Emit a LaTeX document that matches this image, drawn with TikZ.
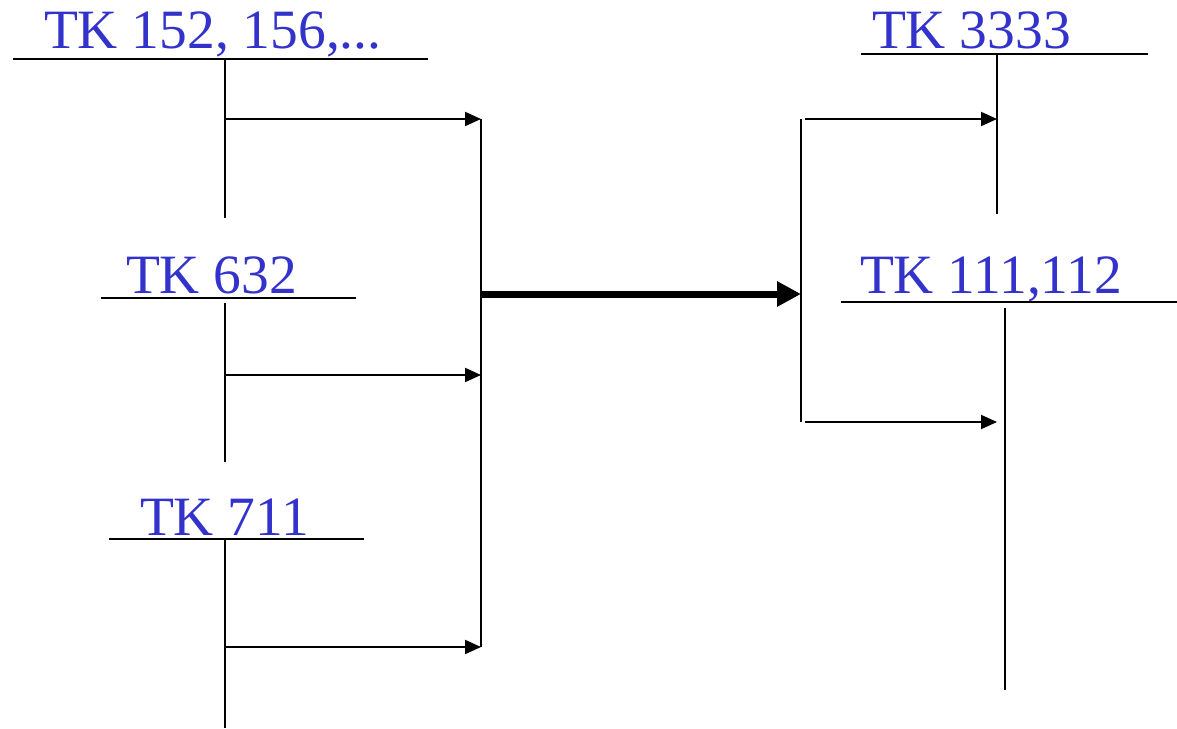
\documentclass[tikz,border=0pt]{standalone}
\usepackage{fontspec}
\setmainfont{Liberation Serif}
\usetikzlibrary{arrows.meta}
\definecolor{tkblue}{RGB}{51,51,204}
\tikzset{
  tklabel/.style={anchor=base west, inner sep=0pt, text=tkblue,
    font=\fontsize{55.5}{60}\selectfont},
  feed/.style={-{Triangle[length=16pt,width=14pt]}},
  mainflow/.style={line width=7pt, -{Triangle[length=24pt,width=24pt]}},
}
\begin{document}
\begin{tikzpicture}[x=1pt,y=-1pt,line width=2pt]
  \useasboundingbox (0,0) rectangle (1177,728);
  % left side: three sources
  \node[tklabel] (src1) at (43,48) {TK 152, 156,...};
  \node[tklabel] (src2) at (125,293) {TK 632};
  \node[tklabel] (src3) at (139,535) {TK 711};
  \coordinate (u1a) at (13,59);  \coordinate (u1b) at (428,59);
  \coordinate (u2a) at (101,298); \coordinate (u2b) at (356,298);
  \coordinate (u3a) at (109,539); \coordinate (u3b) at (364,539);
  \draw (u1a) -- (u1b);
  \draw (u2a) -- (u2b);
  \draw (u3a) -- (u3b);
  \coordinate (s1top) at (225,59);  \coordinate (s1bot) at (225,218);
  \coordinate (s2top) at (225,303); \coordinate (s2bot) at (225,462);
  \coordinate (s3top) at (225,539); \coordinate (s3bot) at (225,728);
  \draw (s1top) -- (s1bot);
  \draw (s2top) -- (s2bot);
  \draw (s3top) -- (s3bot);
  \coordinate (b1) at (225,119); \coordinate (c1) at (481,119);
  \coordinate (b2) at (225,375); \coordinate (c2) at (481,375);
  \coordinate (b3) at (225,647); \coordinate (c3) at (481,647);
  \draw[feed] (b1) -- (c1);
  \draw[feed] (b2) -- (c2);
  \draw[feed] (b3) -- (c3);
  \draw (c1) -- (c3);
  % main transfer
  \coordinate (m1) at (481,294); \coordinate (m2) at (801,294);
  \draw[mainflow] (m1) -- (m2);
  % right side: two targets
  \coordinate (d1) at (801,119); \coordinate (d2) at (801,422);
  \draw (d1) -- (d2);
  \node[tklabel] (dst1) at (871,48) {TK 3333};
  \node[tklabel] (dst2) at (859,293) {TK 111,112};
  \coordinate (v1a) at (861,54);  \coordinate (v1b) at (1148,54);
  \coordinate (v2a) at (841,302); \coordinate (v2b) at (1177,302);
  \draw (v1a) -- (v1b);
  \draw (v2a) -- (v2b);
  \coordinate (t1top) at (997,54);   \coordinate (t1bot) at (997,214);
  \coordinate (t2top) at (1005,308); \coordinate (t2bot) at (1005,690);
  \draw (t1top) -- (t1bot);
  \draw (t2top) -- (t2bot);
  \coordinate (e1) at (805,119); \coordinate (f1) at (997,119);
  \coordinate (e2) at (805,422); \coordinate (f2) at (997,422);
  \draw[feed] (e1) -- (f1);
  \draw[feed] (e2) -- (f2);
\end{tikzpicture}
\end{document}
